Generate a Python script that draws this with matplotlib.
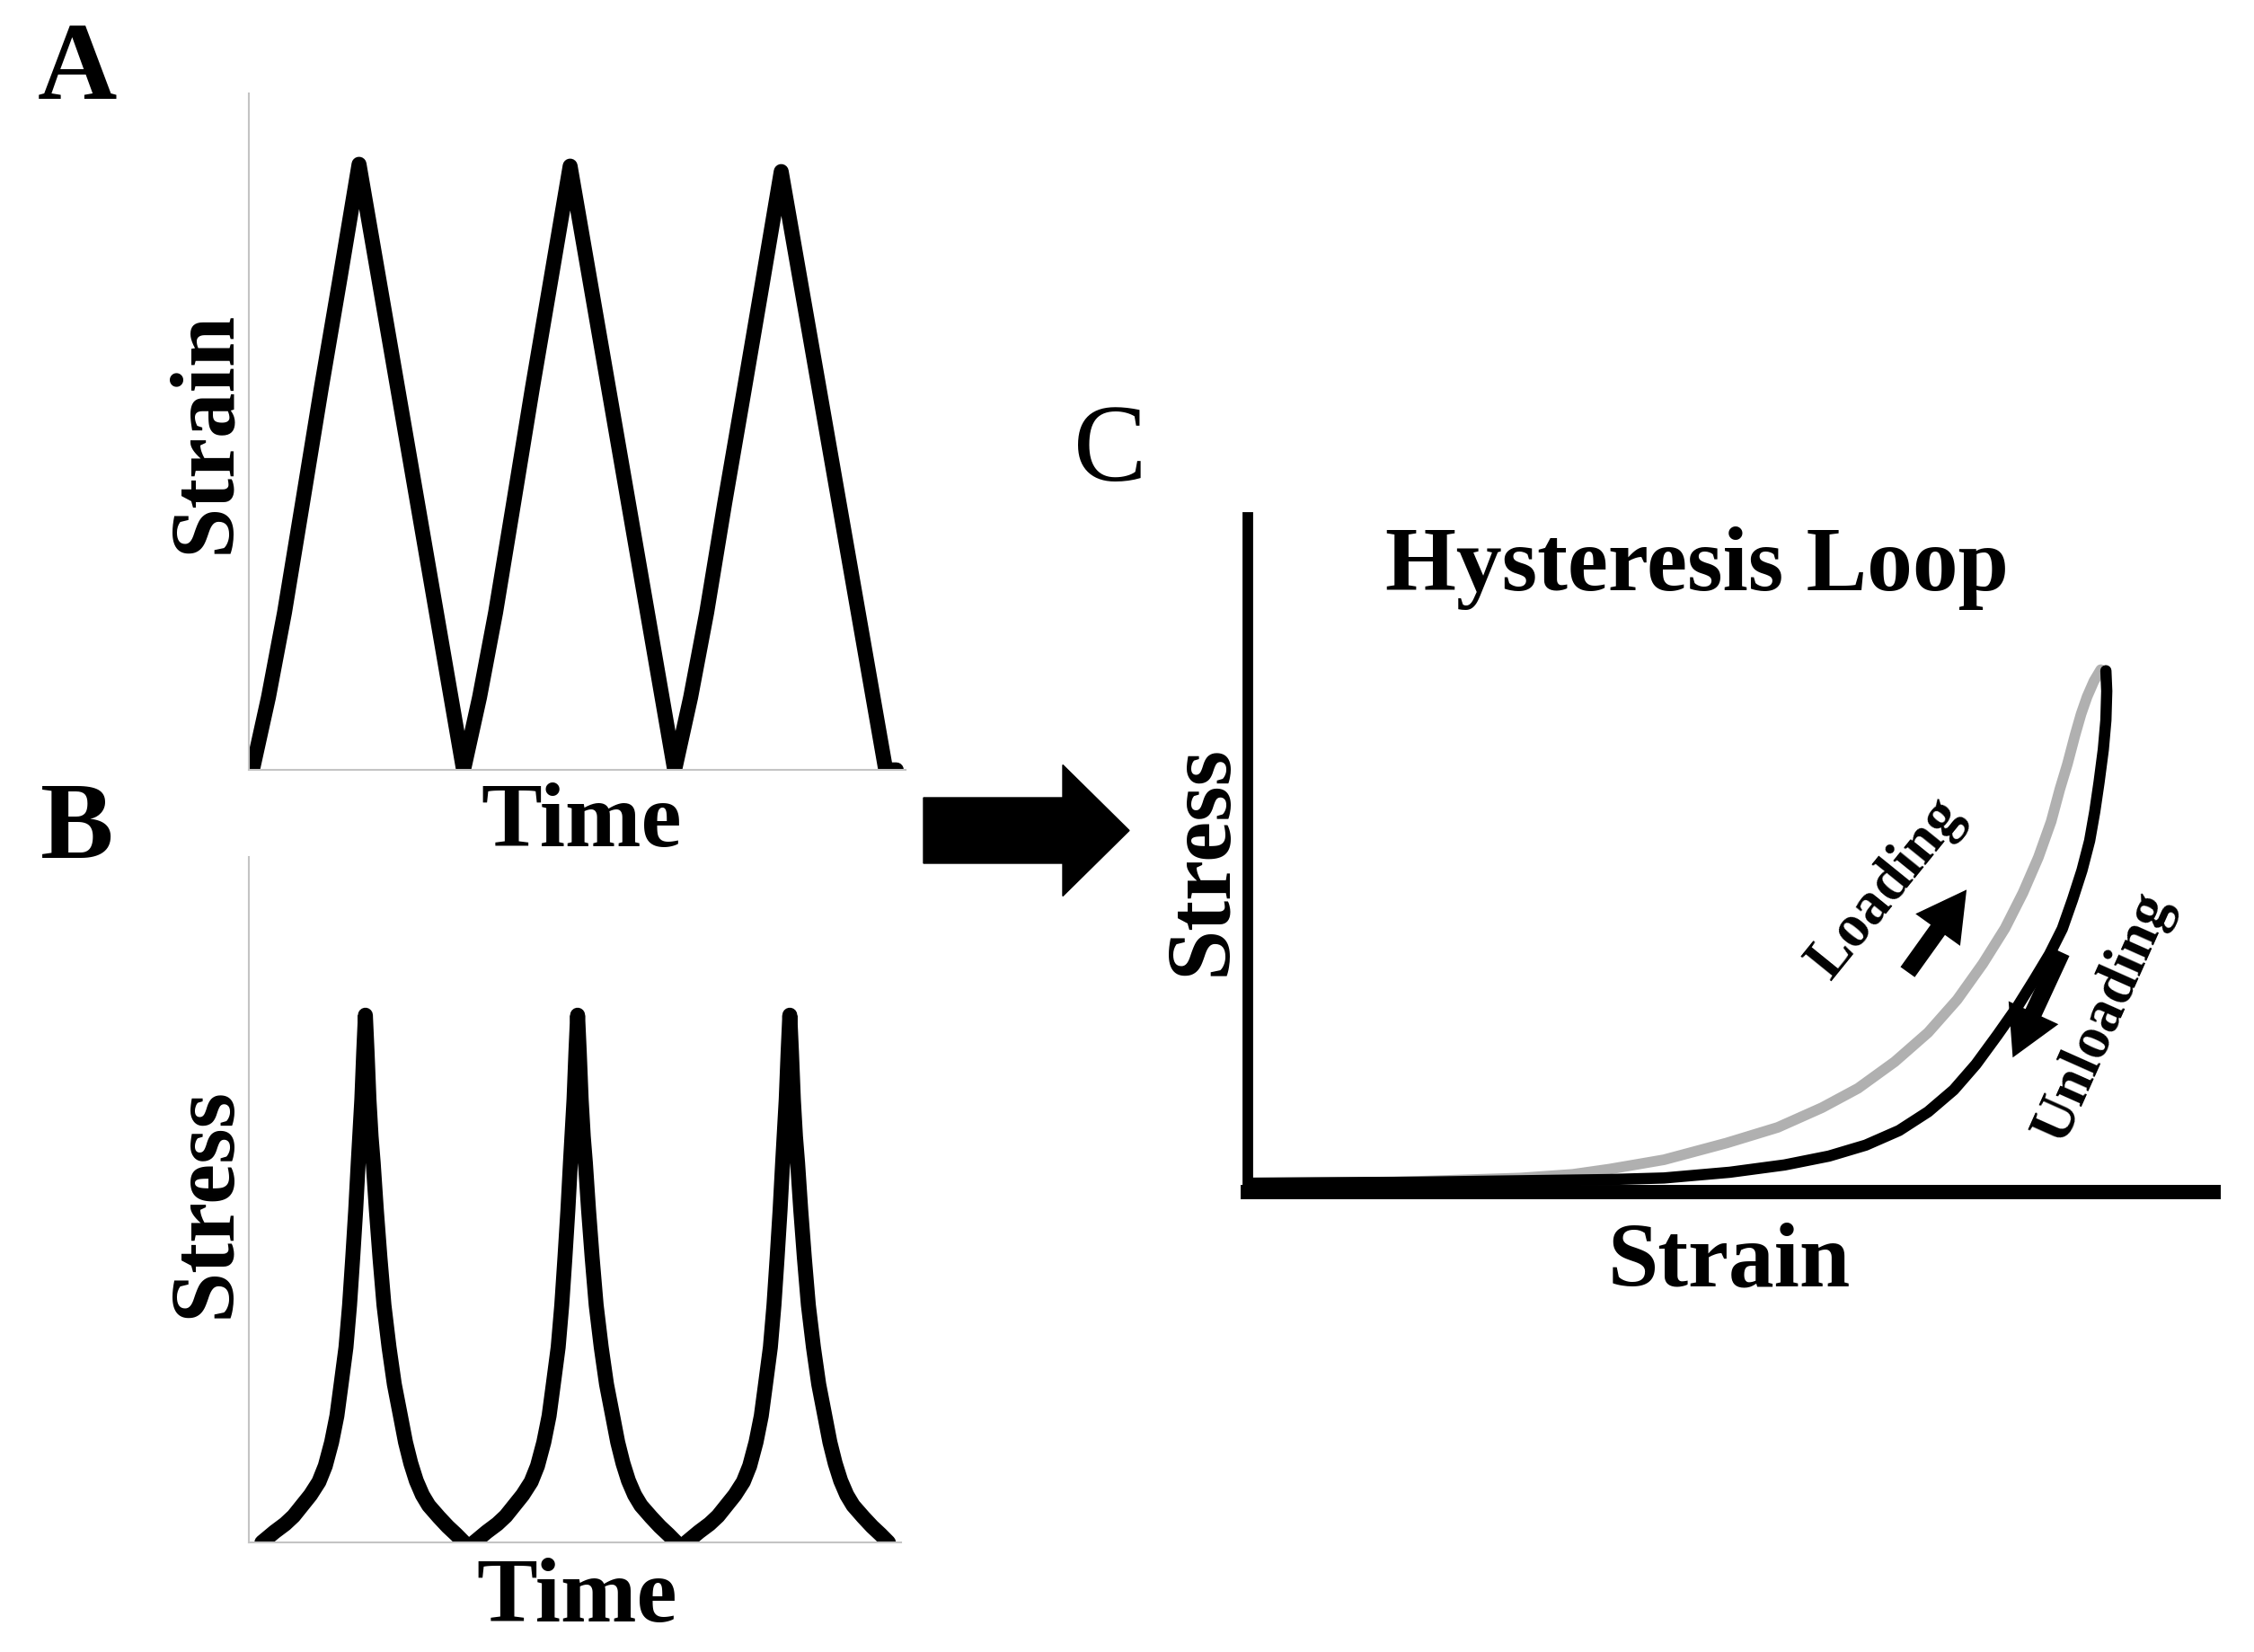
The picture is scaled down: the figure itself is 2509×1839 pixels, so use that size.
import matplotlib
matplotlib.use('Agg')
import matplotlib.pyplot as plt
from matplotlib.patches import FancyArrow

plt.rcParams['font.family'] = ['Liberation Serif', 'DejaVu Serif']

# panel A: cyclic strain vs time (peak = 1)
strain_time = [0.000, 0.076, 0.152, 0.237, 0.326, 0.414, 0.505, 1.000,
               1.076, 1.152, 1.237, 1.326, 1.414, 1.505, 2.000,
               2.076, 2.152, 2.237, 2.326, 2.414, 2.505, 3.000, 3.050]
strain_vals = [0.00, 0.12, 0.26, 0.44, 0.63, 0.81, 1.000, 0.00,
               0.12, 0.26, 0.44, 0.63, 0.81, 0.997, 0.00,
               0.12, 0.26, 0.44, 0.62, 0.80, 0.988, 0.00, 0.00]

# panel B: one stress peak (time from peak, stress)
peak_offset = [-0.490, -0.430, -0.380, -0.340, -0.300, -0.260, -0.220, -0.190,
               -0.160, -0.135, -0.115, -0.092, -0.075, -0.060, -0.046, -0.034,
               -0.017, -0.008, 0.000, 0.008, 0.017, 0.027, 0.037, 0.052, 0.069,
               0.088, 0.112, 0.137, 0.166, 0.190, 0.215, 0.241, 0.270, 0.300,
               0.348, 0.390, 0.430, 0.467]
peak_shape = [0.000, 0.020, 0.035, 0.050, 0.070, 0.090, 0.115, 0.145,
              0.190, 0.240, 0.300, 0.370, 0.450, 0.540, 0.630, 0.720,
              0.840, 0.930, 1.000, 0.930, 0.840, 0.770, 0.720, 0.630, 0.540,
              0.450, 0.370, 0.300, 0.240, 0.190, 0.150, 0.117, 0.090, 0.070,
              0.048, 0.030, 0.015, 0.000]
peak_times = [0.535, 1.540, 2.545]

# panel C: hysteresis loop (strain, stress normalised to the peak)
loading_strain = [0.000, 0.169, 0.319, 0.380, 0.423, 0.487, 0.560, 0.620,
                  0.672, 0.714, 0.757, 0.796, 0.830, 0.860, 0.886, 0.907,
                  0.925, 0.940, 0.950, 0.959, 0.968, 0.975, 0.982, 0.990, 0.998]
loading_stress = [0.017, 0.019, 0.027, 0.034, 0.044, 0.062, 0.094, 0.124,
                  0.162, 0.199, 0.250, 0.306, 0.369, 0.438, 0.506, 0.574,
                  0.642, 0.711, 0.772, 0.821, 0.877, 0.917, 0.950, 0.980, 1.002]
unloading_strain = [1.004, 1.005, 1.004, 1.001, 0.996, 0.991, 0.985, 0.976,
                    0.965, 0.953, 0.938, 0.920, 0.901, 0.877, 0.852, 0.826,
                    0.796, 0.762, 0.723, 0.680, 0.628, 0.564, 0.487, 0.423,
                    0.200, 0.000]
unloading_stress = [1.000, 0.961, 0.905, 0.849, 0.786, 0.730, 0.674, 0.617,
                    0.561, 0.505, 0.456, 0.407, 0.357, 0.301, 0.245, 0.196,
                    0.154, 0.118, 0.090, 0.069, 0.052, 0.038, 0.027, 0.024,
                    0.019, 0.017]

W, H = 2509, 1840
LABEL = 73


def px(x, y):
    return x / W, 1 - y / H


fig = plt.figure(figsize=(W / 100, H / 100), dpi=100)


def axes_px(left, top, right, bottom):
    return fig.add_axes([left / W, 1 - bottom / H, (right - left) / W, (bottom - top) / H])


def clean(ax, color, lw_left, lw_bottom):
    for side in ['top', 'right']:
        ax.spines[side].set_visible(False)
    ax.spines['left'].set_color(color)
    ax.spines['bottom'].set_color(color)
    ax.spines['left'].set_linewidth(lw_left)
    ax.spines['bottom'].set_linewidth(lw_bottom)
    ax.set_xticks([])
    ax.set_yticks([])
    ax.patch.set_alpha(0)


# A
ax_a = axes_px(277, 105, 1008, 858)
ax_a.plot(strain_time, strain_vals, color='black', lw=12,
          solid_joinstyle='round', solid_capstyle='round')
ax_a.set_xlim(-0.017, 3.094)
ax_a.set_ylim(0, 1.117)
clean(ax_a, '#c4c4c4', 1.5, 1.5)

# B
ax_b = axes_px(277, 955, 1003, 1718)
for t0 in peak_times:
    ax_b.plot([t0 + d for d in peak_offset], peak_shape, color='black', lw=12,
              solid_joinstyle='round', solid_capstyle='round')
ax_b.set_xlim(-0.017, 3.072)
ax_b.set_ylim(0, 1.30)
clean(ax_b, '#c4c4c4', 1.5, 1.5)

# C
ax_c = axes_px(1389, 577, 2464, 1328)
ax_c.plot(loading_strain, loading_stress, color='#b0b0b0', lw=8.5,
          solid_joinstyle='round', solid_capstyle='round')
ax_c.plot(unloading_strain, unloading_stress, color='black', lw=9,
          solid_joinstyle='round', solid_capstyle='round')
ax_c.set_xlim(0, 1.130)
ax_c.set_ylim(0, 1.294)
clean(ax_c, 'black', 8.5, 11.5)

arrow_style = 'simple,head_length=0.9,head_width=1.0,tail_width=0.32'
ax_c.annotate('', xy=(0.841, 0.580), xytext=(0.772, 0.422),
              arrowprops=dict(arrowstyle=arrow_style, mutation_scale=44,
                              fc='black', ec='none', shrinkA=0, shrinkB=0))
ax_c.annotate('', xy=(0.895, 0.258), xytext=(0.952, 0.460),
              arrowprops=dict(arrowstyle=arrow_style, mutation_scale=44,
                              fc='black', ec='none', shrinkA=0, shrinkB=0))

# big arrow between panels
fig.add_artist(FancyArrow(1028 / W, 1 - 925.5 / H, (1257 - 1028) / W, 0,
                          width=73 / H, head_width=146 / H, head_length=74 / W,
                          length_includes_head=True, transform=fig.transFigure,
                          color='black'))

# texts
bold = dict(fontsize=LABEL, fontweight='bold', ha='center', va='baseline')
fig.text(*px(255, 481), 'Strain', rotation=90, rotation_mode='anchor', **bold)
fig.text(*px(647, 942), 'Time', **bold)
fig.text(*px(256, 1338), 'Stress', rotation=90, rotation_mode='anchor', **bold)
fig.text(*px(642, 1805), 'Time', **bold)
fig.text(*px(1365, 957), 'Stress', rotation=90, rotation_mode='anchor', **bold)
fig.text(*px(1925, 1432), 'Strain', **bold)
fig.text(*px(1889, 657), 'Hysteresis Loop', **bold)

fig.text(*px(42, 110), 'A', fontsize=88, fontweight='bold', ha='left', va='baseline')
fig.text(*px(45, 955), 'B', fontsize=88, fontweight='bold', ha='left', va='baseline')
fig.text(*px(1195, 535), 'C', fontsize=88, ha='left', va='baseline')

fig.text(*px(2100, 990), 'Loading', rotation=51, rotation_mode='anchor',
         fontsize=48, fontweight='bold', ha='center', va='center')
fig.text(*px(2342, 1133), 'Unloading', rotation=66, rotation_mode='anchor',
         fontsize=48, fontweight='bold', ha='center', va='center')

fig.savefig('out.png', dpi=100)
